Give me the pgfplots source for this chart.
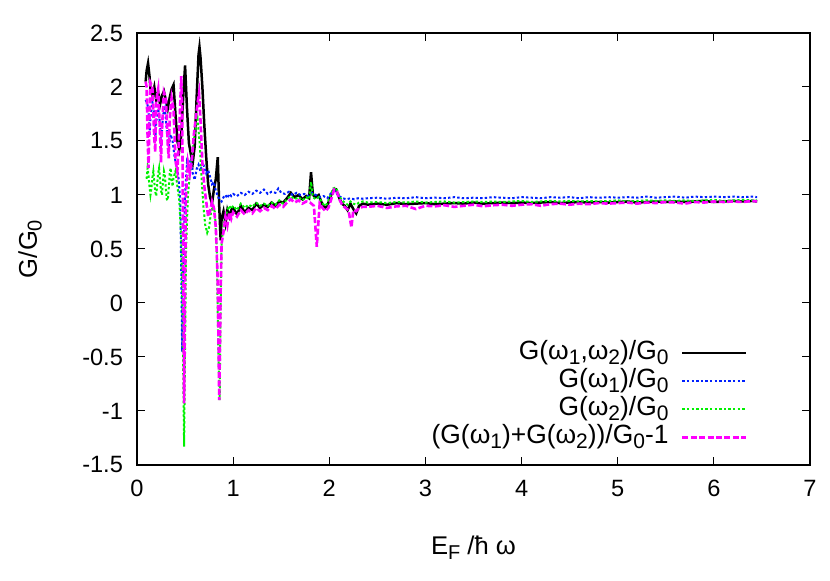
\documentclass[border=0pt]{standalone}
\usepackage{fontspec}
\setmainfont{Liberation Sans}
\usepackage{pgfplots}
\pgfplotsset{compat=1.18}
\newcommand{\sub}[1]{\raisebox{-0.35ex}{\fontsize{10}{11}\selectfont #1}}
\newcommand{\lsub}[1]{\raisebox{-0.35ex}{\fontsize{10.5}{11}\selectfont #1}}
\definecolor{gblue}{RGB}{0,32,255}
\definecolor{ggreen}{RGB}{0,240,0}
\definecolor{gmag}{RGB}{255,0,255}
\begin{document}
\begin{tikzpicture}
\begin{axis}[
  scale only axis, width=336.5pt, height=216pt,
  xmin=0, xmax=7, ymin=-1.5, ymax=2.5,
  xtick={0,1,...,7}, ytick={-1.5,-1,-0.5,0,0.5,1,1.5,2,2.5},
  tick align=inside, major tick length=3.8pt,
  tick style={black, line width=0.5pt},
  axis line style={line width=0.6pt},
  /pgf/number format/assume math mode=true,
  ticklabel style={font=\fontsize{11.8}{13}\selectfont},
  xticklabel style={yshift=-4pt},
  yticklabel style={xshift=-3.5pt},
  xlabel={E\sub{F} /ħ ω}, ylabel={G/G\sub{0}},
  label style={font=\fontsize{12.8}{14}\selectfont},
  xlabel style={at={(axis description cs:0.5,-0.192)}, anchor=center},
  ylabel style={at={(axis description cs:-0.159,0.5)}, anchor=center},
  legend plot pos=right,
  legend cell align=right,
  legend image code/.code={\draw[#1] (0pt,0pt) -- (32pt,0pt);},
  legend style={at={(0.908,0.03)}, anchor=south east, draw=none, fill=none,
    font=\fontsize{13.2}{14}\selectfont, inner sep=0pt, column sep=6pt,
    nodes={inner sep=0.3pt, text height=9.9pt, text depth=3.6pt}},
]
\addplot[black, line width=1.25pt] table {
0.09 2.05
0.10 2.15
0.115 2.22
0.13 2.10
0.14 1.98
0.16 1.92
0.18 2.00
0.20 1.88
0.22 1.95
0.24 1.84
0.26 1.92
0.28 1.96
0.30 1.88
0.32 1.80
0.34 1.90
0.36 1.98
0.38 2.02
0.40 1.75
0.42 1.50
0.44 1.42
0.46 1.55
0.48 1.90
0.50 2.20
0.52 1.80
0.54 1.48
0.56 1.38
0.58 1.30
0.60 1.45
0.62 1.90
0.64 2.30
0.65 2.37
0.66 2.28
0.68 2.00
0.70 1.65
0.72 1.35
0.74 1.10
0.76 0.98
0.78 0.92
0.80 1.05
0.82 1.15
0.84 1.35
0.855 0.90
0.87 0.58
0.88 0.78
0.90 0.85
0.92 0.74
0.94 0.86
0.96 0.80
0.98 0.86
1.00 0.88
1.04 0.82
1.08 0.90
1.12 0.84
1.16 0.88
1.20 0.86
1.24 0.92
1.28 0.88
1.32 0.91
1.36 0.89
1.40 0.93
1.44 0.90
1.48 0.94
1.52 0.93
1.56 0.97
1.60 1.02
1.64 0.98
1.68 1.00
1.72 0.96
1.76 0.99
1.79 0.97
1.81 1.21
1.83 1.00
1.86 0.98
1.89 1.00
1.92 0.93
1.95 0.88
1.98 0.90
2.01 0.98
2.04 1.04
2.07 1.05
2.10 0.98
2.13 0.92
2.16 0.90
2.19 0.86
2.22 0.92
2.25 0.87
2.28 0.83
2.31 0.90
2.35 0.92
2.40 0.91
2.5 0.92
2.6 0.91
2.7 0.925
2.8 0.915
2.9 0.92
3.0 0.925
3.1 0.915
3.2 0.92
3.3 0.925
3.4 0.92
3.5 0.93
3.6 0.92
3.7 0.925
3.8 0.93
3.9 0.925
4.0 0.93
4.1 0.925
4.2 0.93
4.3 0.935
4.4 0.925
4.5 0.93
4.6 0.935
4.7 0.93
4.8 0.935
4.9 0.93
5.0 0.935
5.1 0.94
5.2 0.93
5.3 0.935
5.4 0.94
5.5 0.935
5.6 0.94
5.7 0.935
5.8 0.94
5.9 0.945
6.0 0.935
6.1 0.94
6.2 0.945
6.3 0.94
6.4 0.945
6.45 0.94
};
\addlegendentry{G(ω\lsub{1},ω\lsub{2})/G\lsub{0}}
\addplot[gblue, line width=1pt, dash pattern=on 1.2pt off 1.1pt] table {
0.09 1.88
0.10 1.86
0.12 1.80
0.13 1.55
0.14 1.72
0.16 1.86
0.18 1.76
0.19 1.50
0.20 1.68
0.22 1.80
0.24 1.66
0.25 1.45
0.27 1.74
0.29 1.80
0.31 1.60
0.33 1.44
0.35 1.56
0.37 1.50
0.39 1.36
0.41 1.26
0.43 1.18
0.45 0.95
0.46 0.30
0.47 -0.45
0.48 0.30
0.50 1.00
0.52 1.30
0.54 1.24
0.56 1.34
0.58 1.20
0.60 1.14
0.62 1.24
0.64 1.28
0.66 1.22
0.68 1.30
0.70 1.26
0.72 1.20
0.74 1.23
0.76 1.17
0.78 1.10
0.80 1.12
0.82 1.04
0.84 0.99
0.86 0.96
0.88 0.94
0.90 0.98
0.92 1.00
0.94 0.97
0.96 1.01
0.98 0.99
1.00 1.01
1.04 0.99
1.08 1.02
1.12 1.00
1.16 1.03
1.20 1.01
1.24 1.04
1.28 1.02
1.32 1.05
1.36 1.01
1.40 1.03
1.44 1.02
1.47 1.06
1.50 1.02
1.54 1.01
1.58 1.03
1.62 1.00
1.66 1.02
1.70 1.00
1.74 1.01
1.78 0.99
1.82 1.02
1.86 1.00
1.90 0.98
1.94 0.99
1.98 0.97
2.02 1.02
2.06 1.04
2.10 0.99
2.14 0.97
2.18 0.96
2.22 0.97
2.26 0.96
2.30 0.97
2.35 0.965
2.4 0.97
2.5 0.975
2.6 0.965
2.7 0.975
2.8 0.97
2.9 0.98
3.0 0.97
3.1 0.975
3.2 0.97
3.3 0.98
3.4 0.97
3.5 0.975
3.6 0.97
3.7 0.98
3.8 0.975
3.9 0.97
4.0 0.98
4.1 0.975
4.2 0.97
4.3 0.98
4.4 0.975
4.5 0.98
4.6 0.97
4.7 0.98
4.8 0.975
4.9 0.98
5.0 0.975
5.1 0.98
5.2 0.975
5.3 0.985
5.4 0.975
5.5 0.98
5.6 0.985
5.7 0.975
5.8 0.985
5.9 0.98
6.0 0.985
6.1 0.98
6.2 0.985
6.3 0.98
6.4 0.985
6.45 0.98
};
\addlegendentry{G(ω\lsub{1})/G\lsub{0}}
\addplot[ggreen, line width=1pt, dash pattern=on 1.2pt off 1.1pt] table {
0.10 1.15
0.11 1.25
0.12 1.18
0.13 1.08
0.14 1.00
0.15 1.06
0.16 1.16
0.17 1.22
0.18 1.12
0.19 1.03
0.20 0.99
0.21 1.10
0.22 1.20
0.23 1.25
0.24 1.14
0.25 1.04
0.26 1.00
0.27 1.12
0.28 1.22
0.29 1.18
0.30 1.06
0.31 0.96
0.32 0.95
0.33 1.06
0.34 1.20
0.35 1.25
0.36 1.14
0.37 1.08
0.38 1.16
0.40 1.22
0.42 1.08
0.44 0.95
0.46 0.60
0.475 -0.20
0.49 -1.33
0.50 -0.40
0.51 0.50
0.53 1.00
0.55 1.20
0.57 1.35
0.59 1.50
0.61 1.62
0.63 1.70
0.65 1.50
0.67 1.18
0.69 0.90
0.71 0.72
0.73 0.65
0.75 0.70
0.77 0.84
0.79 0.90
0.81 0.84
0.83 0.50
0.845 -0.40
0.86 -0.90
0.87 0.00
0.88 0.55
0.90 0.72
0.92 0.80
0.94 0.86
0.96 0.90
0.98 0.87
1.00 0.90
1.04 0.86
1.08 0.92
1.12 0.88
1.16 0.91
1.20 0.89
1.24 0.93
1.28 0.90
1.32 0.92
1.36 0.90
1.40 0.93
1.44 0.91
1.48 0.95
1.52 0.92
1.56 0.96
1.60 0.99
1.64 0.96
1.68 0.98
1.72 0.95
1.76 0.98
1.79 0.96
1.81 1.12
1.83 0.98
1.86 0.96
1.89 0.98
1.92 0.94
1.95 0.90
1.98 0.92
2.01 0.99
2.04 1.06
2.07 1.07
2.10 1.00
2.13 0.95
2.16 0.93
2.19 0.91
2.22 0.94
2.25 0.92
2.28 0.91
2.31 0.93
2.35 0.94
2.4 0.93
2.5 0.935
2.6 0.925
2.7 0.935
2.8 0.93
2.9 0.94
3.0 0.93
3.1 0.935
3.2 0.94
3.3 0.93
3.4 0.935
3.5 0.94
3.6 0.935
3.7 0.94
3.8 0.935
3.9 0.94
4.0 0.945
4.1 0.935
4.2 0.94
4.3 0.945
4.4 0.94
4.5 0.945
4.6 0.94
4.7 0.945
4.8 0.94
4.9 0.945
5.0 0.95
5.1 0.94
5.2 0.945
5.3 0.95
5.4 0.945
5.5 0.95
5.6 0.945
5.7 0.95
5.8 0.945
5.9 0.95
6.0 0.955
6.1 0.945
6.2 0.95
6.3 0.955
6.4 0.95
6.45 0.95
};
\addlegendentry{G(ω\lsub{2})/G\lsub{0}}
\addplot[gmag, line width=1.3pt, dash pattern=on 3pt off 1.2pt] table {
0.09 2.05
0.10 2.00
0.11 1.55
0.12 1.25
0.13 1.70
0.14 2.04
0.16 2.00
0.18 1.52
0.19 1.40
0.20 1.88
0.22 1.98
0.24 1.56
0.25 1.30
0.26 1.62
0.28 1.95
0.30 1.90
0.32 1.46
0.33 1.34
0.34 1.70
0.36 1.90
0.38 1.80
0.40 1.32
0.42 1.22
0.44 1.60
0.46 2.10
0.47 1.80
0.48 0.50
0.49 -0.93
0.50 0.20
0.51 1.00
0.53 1.30
0.55 1.20
0.57 1.32
0.59 1.55
0.61 1.70
0.63 1.85
0.645 1.94
0.66 1.70
0.68 1.30
0.70 1.08
0.72 0.94
0.74 0.80
0.76 0.85
0.78 0.94
0.80 0.88
0.82 0.70
0.84 0.20
0.855 -0.90
0.87 0.10
0.88 0.55
0.90 0.66
0.92 0.80
0.94 0.72
0.96 0.84
0.98 0.78
1.00 0.84
1.04 0.80
1.08 0.86
1.12 0.82
1.16 0.86
1.20 0.83
1.24 0.88
1.28 0.85
1.32 0.88
1.36 0.86
1.40 0.90
1.44 0.87
1.48 0.91
1.52 0.89
1.56 0.93
1.60 0.96
1.64 0.93
1.68 0.95
1.72 0.92
1.76 0.94
1.80 0.93
1.84 0.90
1.87 0.52
1.90 0.92
1.93 0.88
1.96 0.85
1.99 0.88
2.02 0.96
2.05 1.05
2.08 1.03
2.11 0.95
2.14 0.90
2.17 0.88
2.20 0.86
2.23 0.70
2.25 0.86
2.28 0.85
2.31 0.88
2.35 0.89
2.4 0.89
2.5 0.90
2.6 0.88
2.7 0.895
2.8 0.90
2.9 0.87
3.0 0.90
3.1 0.895
3.2 0.905
3.3 0.89
3.4 0.90
3.5 0.91
3.6 0.895
3.7 0.905
3.8 0.91
3.9 0.90
4.0 0.91
4.1 0.915
4.2 0.90
4.3 0.915
4.4 0.92
4.5 0.91
4.6 0.92
4.7 0.915
4.8 0.925
4.9 0.92
5.0 0.925
5.1 0.93
5.2 0.92
5.3 0.93
5.4 0.925
5.5 0.935
5.6 0.93
5.7 0.92
5.8 0.935
5.9 0.93
6.0 0.94
6.1 0.935
6.2 0.94
6.3 0.935
6.4 0.945
6.45 0.94
};
\addlegendentry{(G(ω\lsub{1})+G(ω\lsub{2}))/G\lsub{0}-1}
\end{axis}
\pgfresetboundingbox
\path ([shift={(-68.5pt,-58pt)}]current axis.south west) rectangle ([shift={(10pt,16.5pt)}]current axis.north east);
\end{tikzpicture}
\end{document}
